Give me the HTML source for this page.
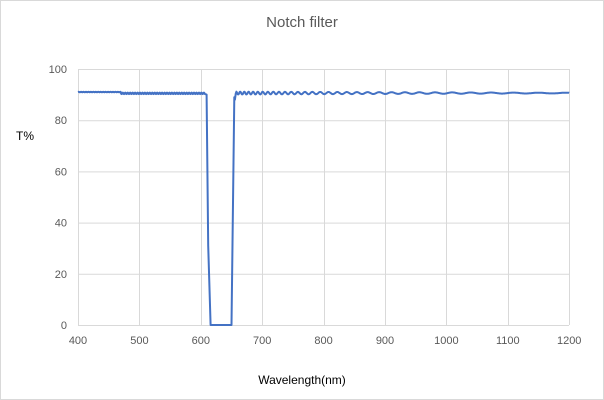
<!DOCTYPE html>
<html><head><meta charset="utf-8"><style>
body{margin:0;background:#fff}
svg{display:block;font-family:"Liberation Sans",sans-serif}
</style></head><body>
<svg id="s" width="604" height="400" viewBox="0 0 604 400">
<rect x="0.5" y="0.5" width="603" height="399" fill="#fff" stroke="#d9d9d9"/>
<text x="302" y="27" text-anchor="middle" font-size="15" fill="#595959">Notch filter</text>
<text x="16" y="140" font-size="12" fill="#000">T%</text>
<text x="302" y="384" text-anchor="middle" font-size="12" fill="#000">Wavelength(nm)</text>
<g id="g" stroke="#d9d9d9" stroke-width="1"></g>
<g id="t" font-size="11" fill="#595959"></g>
<path id="p" fill="none" stroke="#4472c4" stroke-width="2" stroke-linejoin="round"/>
</svg>
<script>
var X=function(w){return 78+(w-400)*0.614},Y=function(v){return 325-v*2.56};
var g=document.getElementById('g'),t=document.getElementById('t'),h='',tt='';
for(var v=0;v<=100;v+=20){h+='<line x1="78" x2="569" y1="'+(Y(v)+.5)+'" y2="'+(Y(v)+.5)+'"/>';tt+='<text x="67" y="'+(Y(v)+4)+'" text-anchor="end">'+v+'</text>';}
for(var w=400;w<=1200;w+=100){var x=Math.round(X(w))+.5;h+='<line x1="'+x+'" x2="'+x+'" y1="69" y2="325"/>';tt+='<text x="'+X(w)+'" y="344" text-anchor="middle">'+w+'</text>';}
g.innerHTML=h;t.innerHTML=tt;
var d='';
function pt(w,v){d+=(d?'L':'M')+X(w).toFixed(1)+' '+Y(v).toFixed(1);}
for(var w=400;w<=607;w+=0.5){var base=w<470?91:90.5;var amp=w<470?0.1:0.3;pt(w,base+amp*Math.sin(w*2*Math.PI/4));}
pt(609.5,90);pt(612,31);pt(616,0);pt(650,0);pt(654.5,89);pt(655.5,88);pt(657,90.5);
for(var w=658;w<=1200;w+=0.5){var per=6+(w-650)*0.02;var amp=Math.max(0.15,0.55-(w-650)*0.0008);pt(w,90.6+amp*Math.sin((w-650)*2*Math.PI/per));}
document.getElementById('p').setAttribute('d',d);
</script>
</body></html>
